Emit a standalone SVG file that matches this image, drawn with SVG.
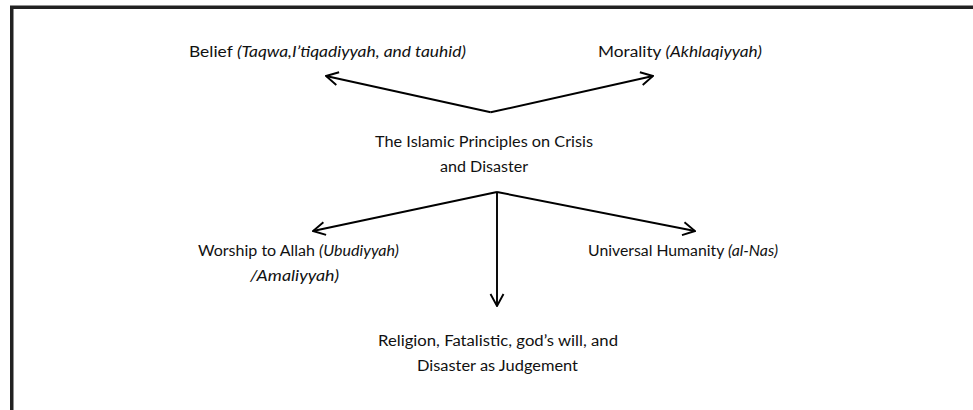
<svg xmlns="http://www.w3.org/2000/svg" width="973" height="410" viewBox="0 0 973 410">
<defs>
<style>
.t{font-family:Lato,"Open Sans","Liberation Sans",sans-serif;font-size:15.5px;fill:#111;}
.i{font-style:italic;}
.c{stroke:#000;stroke-width:1.9;fill:none;}
.m{stroke:#000;stroke-width:1.9;fill:none;stroke-linejoin:miter;}
</style>
<marker id="ah" markerUnits="userSpaceOnUse" viewBox="0 0 14 16" refX="13" refY="8" markerWidth="14" markerHeight="16" orient="auto">
<path class="m" d="M1,1.5 L13,8 L1,14.5"/>
</marker>
</defs>
<rect x="0" y="0" width="973" height="410" fill="#fff"/>
<path id="frame" d="M11.75,415 V7.25 H980" fill="none" stroke="#222" stroke-width="3.5"/>
<g id="connectors">
<line class="c" x1="490.7" y1="112.3" x2="326" y2="76" marker-end="url(#ah)"/>
<line class="c" x1="490.7" y1="112.3" x2="653" y2="76" marker-end="url(#ah)"/>
<line class="c" x1="497" y1="192" x2="313" y2="231" marker-end="url(#ah)"/>
<line class="c" x1="497" y1="192" x2="695" y2="231" marker-end="url(#ah)"/>
<line class="c" x1="497" y1="192" x2="497" y2="306" marker-end="url(#ah)"/>
</g>
<g id="belief"><text class="t" x="189" y="57" textLength="277" lengthAdjust="spacingAndGlyphs">Belief <tspan class="i">(Taqwa,I’tiqadiyyah, and tauhid)</tspan></text></g>
<g id="morality"><text class="t" x="598" y="57" textLength="164" lengthAdjust="spacingAndGlyphs">Morality <tspan class="i">(Akhlaqiyyah)</tspan></text></g>
<g id="center"><text class="t" text-anchor="middle" x="484" y="147" textLength="218" lengthAdjust="spacingAndGlyphs">The Islamic Principles on Crisis</text><text class="t" text-anchor="middle" x="484" y="172" textLength="88" lengthAdjust="spacingAndGlyphs">and Disaster</text></g>
<g id="worship"><text class="t" x="198" y="256" textLength="201" lengthAdjust="spacingAndGlyphs">Worship to Allah <tspan class="i">(Ubudiyyah)</tspan></text><text class="t i" x="250" y="281" textLength="89" lengthAdjust="spacingAndGlyphs">/Amaliyyah)</text></g>
<g id="humanity"><text class="t" x="588" y="256" textLength="190" lengthAdjust="spacingAndGlyphs">Universal Humanity <tspan class="i">(al-Nas)</tspan></text></g>
<g id="religion"><text class="t" text-anchor="middle" x="498" y="346" textLength="240" lengthAdjust="spacingAndGlyphs">Religion, Fatalistic, god’s will, and</text><text class="t" text-anchor="middle" x="497.5" y="371" textLength="161" lengthAdjust="spacingAndGlyphs">Disaster as Judgement</text></g>
</svg>
